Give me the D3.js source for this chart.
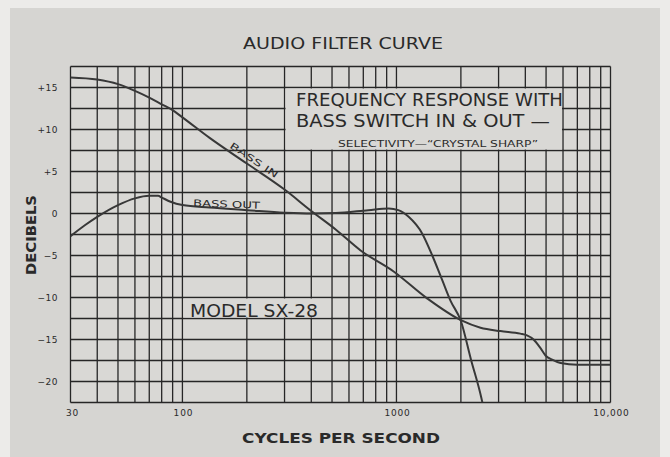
<!DOCTYPE html>
<html>
<head>
<meta charset="utf-8">
<script src="https://cdn.jsdelivr.net/npm/d3@7/dist/d3.min.js"></script>
<style>
  html, body { margin: 0; padding: 0; background: #ecebe9; }
  svg { display: block; }
  text { font-family: "DejaVu Sans", "Liberation Sans", sans-serif; fill: #2a2a2a; }
</style>
</head>
<body>
<script>
// ---- data ----
const freqGrid = [30,40,50,60,70,80,90,100,200,300,400,500,600,700,800,900,1000,2000,3000,4000,5000,6000,7000,8000,9000,10000];
const dbGrid = [-22.5,-20,-17.5,-15,-12.5,-10,-7.5,-5,-2.5,0,2.5,5,7.5,10,12.5,15,17.5];
const yTickValues = [15,10,5,0,-5,-10,-15,-20];
const yTickLabels = ["+15","+10","+5","0","\u22125","\u221210","\u221215","\u221220"];
const xTickValues = [30,100,1000,10000];
const xTickLabels = ["30","100","1000","10,000"];

const bassInFreq = [30,40,50,60,70,80,90,100,134,200,300,400,520,680,970,1390,2000,2470,3060,3790,4070,4370,4700,4970,5340,5840,7000,10000];
const bassInDb   = [16.2,15.95,15.4,14.6,13.8,13.0,12.3,11.45,9.0,5.95,2.85,0.3,-1.9,-4.4,-6.9,-10.1,-12.7,-13.6,-14.0,-14.3,-14.5,-15.0,-16.0,-16.9,-17.4,-17.8,-18.0,-18.0];

const bassOutFreq = [30,35,40,50,60,70,77,80,88,100,134,200,300,400,520,740,920,1020,1140,1320,1470,1640,1790,2000,2230,2490,2520];
const bassOutDb   = [-2.7,-1.4,-0.4,1.0,1.8,2.1,2.1,1.9,1.4,1.0,0.7,0.4,0.1,0.0,0.05,0.4,0.6,0.4,-0.4,-2.4,-5.0,-8.0,-10.4,-12.8,-17.4,-21.9,-22.5];

// ---- layout ----
const W = 670, H = 457;
const svg = d3.select("body").append("svg").attr("width", W).attr("height", H);

svg.append("rect").attr("x", 0).attr("y", 0).attr("width", W).attr("height", H).attr("fill", "#ecebe9");
svg.append("rect").attr("x", 10).attr("y", 8).attr("width", 650).attr("height", 449).attr("fill", "#d6d5d2");

const x = d3.scaleLog().domain([30, 10000]).range([70.5, 610.5]);
const y = d3.scaleLinear().domain([-22.5, 17.5]).range([402.5, 66.5]);

svg.append("rect").attr("x", x(30)).attr("y", y(17.5))
  .attr("width", x(10000) - x(30)).attr("height", y(-22.5) - y(17.5))
  .attr("fill", "#d9d8d5");

const grid = svg.append("g").attr("stroke", "#262626").attr("stroke-width", 1.3);
grid.selectAll("line.v").data(freqGrid).join("line")
  .attr("x1", d => x(d)).attr("x2", d => x(d))
  .attr("y1", y(17.5)).attr("y2", y(-22.5));
grid.selectAll("line.h").data(dbGrid).join("line")
  .attr("y1", d => y(d)).attr("y2", d => y(d))
  .attr("x1", x(30)).attr("x2", x(10000));

// annotation boxes (cover grid)
const boxFill = "#d9d8d5";
svg.append("rect")
  .attr("x", x(300) + 1).attr("y", y(15) + 1)
  .attr("width", x(6000) - x(300) - 2).attr("height", y(7.5) - y(15) - 2)
  .attr("fill", boxFill);
svg.append("rect")
  .attr("x", x(100) + 1).attr("y", y(-10) + 1)
  .attr("width", x(500) - x(100) - 2).attr("height", y(-12.5) - y(-10) - 2)
  .attr("fill", boxFill);

// curves
svg.append("clipPath").attr("id", "plotclip").append("rect")
  .attr("x", x(30)).attr("y", y(17.5))
  .attr("width", x(10000) - x(30)).attr("height", y(-22.5) - y(17.5));

const line = d3.line().x(d => x(d[0])).y(d => y(d[1])).curve(d3.curveMonotoneX);
const curves = svg.append("g").attr("clip-path", "url(#plotclip)")
  .attr("fill", "none").attr("stroke", "#383838").attr("stroke-width", 2).attr("stroke-linejoin", "round");
curves.append("path").attr("d", line(bassInFreq.map((f, i) => [f, bassInDb[i]])));
curves.append("path").attr("d", line(bassOutFreq.map((f, i) => [f, bassOutDb[i]])));

// tick labels
svg.append("g").selectAll("text").data(yTickValues).join("text")
  .attr("x", 58).attr("y", d => y(d) + 3.5)
  .attr("text-anchor", "end").attr("font-size", 9).attr("letter-spacing", 0.5)
  .text((d, i) => yTickLabels[i]);
svg.append("g").selectAll("text").data(xTickValues).join("text")
  .attr("x", d => x(d) + (d === 30 ? 2 : 1)).attr("y", 416)
  .attr("text-anchor", "middle").attr("font-size", 9).attr("letter-spacing", 0.8)
  .text((d, i) => xTickLabels[i]);

// titles
svg.append("text").attr("x", 243).attr("y", 49).attr("font-size", 15)
  .attr("textLength", 200).attr("lengthAdjust", "spacingAndGlyphs").text("AUDIO FILTER CURVE");
svg.append("text").attr("x", 242).attr("y", 443).attr("font-size", 14.5).attr("font-weight", "bold")
  .attr("textLength", 198).attr("lengthAdjust", "spacingAndGlyphs").text("CYCLES PER SECOND");
svg.append("text").attr("transform", "translate(36,275) rotate(-90)").attr("font-size", 14.5).attr("font-weight", "bold")
  .attr("textLength", 80).attr("lengthAdjust", "spacingAndGlyphs").text("DECIBELS");

// box texts
svg.append("text").attr("x", 296).attr("y", 106).attr("font-size", 17.5)
  .attr("textLength", 267).attr("lengthAdjust", "spacingAndGlyphs").text("FREQUENCY RESPONSE WITH");
svg.append("text").attr("x", 296).attr("y", 127).attr("font-size", 17.5)
  .attr("textLength", 254).attr("lengthAdjust", "spacingAndGlyphs").text("BASS SWITCH IN & OUT \u2014");
svg.append("text").attr("x", 338).attr("y", 147).attr("font-size", 9)
  .attr("textLength", 200).attr("lengthAdjust", "spacingAndGlyphs").text("SELECTIVITY\u2014\u201CCRYSTAL SHARP\u201D");
svg.append("text").attr("x", 190).attr("y", 317).attr("font-size", 17.5)
  .attr("textLength", 128).attr("lengthAdjust", "spacingAndGlyphs").text("MODEL SX-28");

// curve labels
svg.append("text").attr("transform", `translate(${x(165)},${y(7.9)}) rotate(34)`)
  .attr("font-size", 9).attr("textLength", 56).attr("lengthAdjust", "spacingAndGlyphs")
  .text("BASS IN");
svg.append("text").attr("transform", `translate(${x(112)},${y(0.85)}) rotate(2)`)
  .attr("font-size", 9.5).attr("textLength", 67).attr("lengthAdjust", "spacingAndGlyphs")
  .text("BASS OUT");
</script>
</body>
</html>
